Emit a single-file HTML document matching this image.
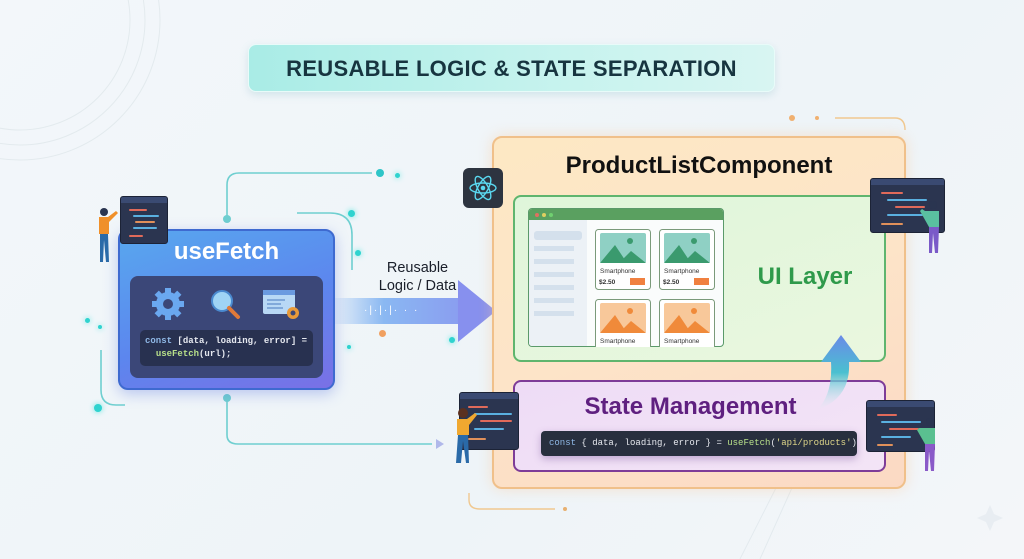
<!DOCTYPE html>
<html><head><meta charset="utf-8"><style>
*{box-sizing:border-box;margin:0;padding:0}
body{width:1024px;height:559px;overflow:hidden;position:relative;background:linear-gradient(135deg,#f3f7fa,#eef4f8 60%,#f4f6f9);font-family:"Liberation Sans",sans-serif}
.a{position:absolute}
.mono{font-family:"Liberation Mono",monospace}
.mon{position:absolute;background:#2b3550;border:1px solid #1c2336;border-radius:3px;overflow:hidden}
.mon .bar{height:6px;background:#3a4a72}
.mon i{position:absolute;height:2px;border-radius:1px}
.dot{position:absolute;border-radius:50%;background:#2fd3cf;box-shadow:0 0 6px #5fe6e0}
</style></head><body>
<svg class="a" style="left:0;top:0" width="1024" height="559">
<g fill="none" stroke="#e3eaee" stroke-width="1">
<circle cx="20" cy="20" r="110"/><circle cx="20" cy="20" r="125"/><circle cx="20" cy="20" r="140"/>
<path d="M740 559 L780 480 M760 559 L800 470"/>
</g>
<g fill="none" stroke="#6fcfd0" stroke-width="1.6">
<path d="M227 219 V185 Q227 173 239 173 H372"/>
<path d="M297 213 H330 Q352 213 352 235 V270"/>
<path d="M227 398 V435 Q227 444 238 444 H432"/>
<path d="M101 350 V390 Q101 405 116 405 H125"/>
</g>
<path d="M436 439 L444 444 L436 449 Z" fill="#b0b8ea"/>
<g fill="none" stroke="#f0c890" stroke-width="1.4">
<path d="M469 493 V500 Q469 509 480 509 H555"/>
<path d="M835 118 H895 Q905 118 905 130"/>
</g>
<circle cx="565" cy="509" r="2" fill="#e8b070"/>
<circle cx="792" cy="118" r="3" fill="#f0b070"/>
<circle cx="817" cy="118" r="2" fill="#f0b070"/>
<circle cx="380" cy="173" r="4" fill="#2fc5c8"/>
<circle cx="227" cy="219" r="4" fill="#6fcfd0"/>
<circle cx="227" cy="398" r="4" fill="#6fcfd0"/>
<path d="M990 505 l4 9 l9 4 l-9 4 l-4 9 l-4 -9 l-9 -4 l9 -4z" fill="#e8edf2"/>
</svg>
<div class="dot" style="top:210px;left:348px;width:7px;height:7px"></div>
<div class="dot" style="left:355px;top:250px;width:6px;height:6px"></div>
<div class="dot" style="left:395px;top:173px;width:5px;height:5px"></div>
<div class="dot" style="left:449px;top:337px;width:6px;height:6px"></div>
<div class="dot" style="left:85px;top:318px;width:5px;height:5px"></div>
<div class="dot" style="left:98px;top:325px;width:4px;height:4px"></div>
<div class="dot" style="left:94px;top:404px;width:8px;height:8px"></div>
<div class="dot" style="left:347px;top:345px;width:4px;height:4px"></div>
<div class="a" style="left:379px;top:330px;width:7px;height:7px;border-radius:50%;background:#f0a060"></div>

<div class="a" style="left:248px;top:44px;width:527px;height:48px;border-radius:8px;background:linear-gradient(90deg,#a9ece6,#c7f3ee 60%,#d8f5f2);box-shadow:0 3px 8px rgba(120,180,190,.25);border:1px solid #e8fbf9;text-align:center;line-height:48px;font-weight:bold;font-size:22px;color:#173540;letter-spacing:.3px">REUSABLE LOGIC &amp; STATE SEPARATION</div>

<div class="a" style="left:330px;top:298px;width:135px;height:26px;background:linear-gradient(90deg,rgba(150,200,240,0),#8ab8f2 40%,#8a9cf0)"></div>
<svg class="a" style="left:458px;top:280px" width="42" height="62"><path d="M0 0 L38 31 L0 62 Z" fill="#8790ee"/></svg>
<div class="a" style="left:364px;top:305px;width:90px;height:12px;font-size:10px;color:#fff;letter-spacing:2px;line-height:12px">·|·|·|·  ·  ·</div>
<div class="a" style="left:370px;top:259px;width:95px;text-align:center;font-size:14.5px;line-height:18px;color:#1a1f2a">Reusable<br>Logic / Data</div>

<div class="a" style="left:118px;top:229px;width:217px;height:161px;border-radius:10px;background:linear-gradient(160deg,#58a8ee,#5c86ee 55%,#7a70e6);border:2px solid #3e6ad0;box-shadow:0 4px 14px rgba(80,110,220,.35)"></div>
<div class="a" style="left:118px;top:238px;width:217px;text-align:center;font-size:24px;font-weight:bold;color:#fff">useFetch</div>
<div class="a" style="left:130px;top:276px;width:193px;height:102px;border-radius:8px;background:#3b4778"></div>
<div class="a mono" style="left:140px;top:330px;width:173px;height:36px;border-radius:5px;background:#283150;font-size:9px;line-height:13px;padding:5px 5px;color:#e6e9f0;white-space:nowrap;font-weight:bold"><span style="color:#8fb8e6">const</span> [data, loading, error] =<br>&nbsp;&nbsp;<span style="color:#b8e08a">useFetch</span>(url);</div>
<svg class="a" style="left:150px;top:287px" width="165" height="38">
<g transform="translate(18,17)"><circle r="12" fill="#6aa8f0"/><g fill="#6aa8f0"><rect x="-3" y="-16" width="6" height="32"/><rect x="-16" y="-3" width="32" height="6"/><rect x="-3" y="-16" width="6" height="32" transform="rotate(45)"/><rect x="-3" y="-16" width="6" height="32" transform="rotate(-45)"/></g><circle r="5" fill="#3b4778"/></g>
<circle cx="72" cy="14" r="10" fill="#9fd4f5" stroke="#4a8ad0" stroke-width="2"/><path d="M79 21 L88 30" stroke="#e07a3a" stroke-width="4" stroke-linecap="round"/>
<rect x="113" y="3" width="32" height="24" rx="2" fill="#b8d8f5"/><rect x="113" y="3" width="32" height="5" fill="#6a9ae0"/><path d="M117 13h18M117 17h14M117 21h16" stroke="#4a7ac0"/>
<circle cx="143" cy="26" r="6" fill="#e89a3a"/><circle cx="143" cy="26" r="2.5" fill="#3b4778"/>
</svg>
<div class="mon" style="left:120px;top:196px;width:48px;height:48px"><div class="bar"></div><i style="left:8px;top:12px;width:18px;background:#e06a5a"></i><i style="left:12px;top:18px;width:26px;background:#5ab0e0"></i><i style="left:14px;top:24px;width:20px;background:#e0905a"></i><i style="left:12px;top:30px;width:24px;background:#5ab0e0"></i><i style="left:8px;top:38px;width:14px;background:#e06a5a"></i></div>
<svg class="a" style="left:92px;top:205px" width="30" height="60"><circle cx="12" cy="7" r="4" fill="#2a3550"/><path d="M7 12h9l8-6 2 2-9 9v12H7z" fill="#f0902a"/><path d="M8 29h8l1 28h-3l-2-22-1 22H8z" fill="#2a6aa8"/></svg>

<div class="a" style="left:492px;top:136px;width:414px;height:353px;border-radius:10px;border:2px solid #f0c08a;background:linear-gradient(160deg,#fde8c4,#fde4c8 50%,#fbd9c4);box-shadow:0 0 14px rgba(250,200,150,.45)"></div>
<div class="a" style="left:492px;top:152px;width:414px;text-align:center;font-size:24px;font-weight:bold;color:#111">ProductListComponent</div>
<div class="a" style="left:463px;top:168px;width:40px;height:40px;border-radius:6px;background:#2d3440"></div>
<svg class="a" style="left:463px;top:168px" width="40" height="40"><g fill="none" stroke="#5ad8f0" stroke-width="1.4" transform="translate(20,20)"><ellipse rx="13" ry="5"/><ellipse rx="13" ry="5" transform="rotate(60)"/><ellipse rx="13" ry="5" transform="rotate(-60)"/></g><circle cx="20" cy="20" r="2.3" fill="#5ad8f0"/></svg>

<div class="a" style="left:513px;top:195px;width:373px;height:167px;border-radius:8px;border:2px solid #5fb56e;background:linear-gradient(160deg,#dff6da,#eaf7df)"></div>
<div class="a" style="left:750px;top:263px;width:110px;text-align:center;font-size:24px;font-weight:bold;color:#2f9a4b">UI Layer</div>
<div class="a" style="left:528px;top:208px;width:196px;height:139px;border-radius:4px;background:#fafcfc;border:1px solid #5a9a6a;overflow:hidden">
 <div style="height:11px;background:#5aa060;white-space:nowrap;line-height:0"><span style="display:inline-block;width:4px;height:4px;border-radius:50%;background:#e07060;margin:4px 0 0 6px"></span><span style="display:inline-block;width:4px;height:4px;border-radius:50%;background:#e0d060;margin-left:3px"></span><span style="display:inline-block;width:4px;height:4px;border-radius:50%;background:#70d070;margin-left:3px"></span></div>
 <div class="a" style="left:0;top:11px;width:58px;height:128px;background:#ecf1f6"></div>
 <div class="a" style="left:5px;top:22px;width:48px;height:9px;border-radius:3px;background:#d4e0ec"></div>
 <div class="a" style="left:5px;top:37px;width:40px;height:70px;background:repeating-linear-gradient(#d4e0ec 0 5px,transparent 5px 13px)"></div>
</div>
<svg class="a" style="left:595px;top:229px" width="125" height="118">
<g font-family="Liberation Sans" font-size="6.5" fill="#333">
<rect x="0.5" y="0.5" width="55" height="60" rx="3" fill="#fff" stroke="#7a9a7a"/><rect x="5" y="4" width="46" height="30" rx="2" fill="#8fd0c4"/><path d="M5 34 L20 16 L32 34 Z M24 34 L36 22 L51 34Z" fill="#3a9a6e"/><circle cx="35" cy="12" r="3" fill="#3a9a6e"/><text x="5" y="44">Smartphone</text><text x="4" y="55" font-weight="bold">$2.50</text><rect x="35" y="49" width="15" height="7" fill="#f08040"/>
<rect x="64.5" y="0.5" width="55" height="60" rx="3" fill="#fff" stroke="#7a9a7a"/><rect x="69" y="4" width="46" height="30" rx="2" fill="#8fd0c4"/><path d="M69 34 L84 16 L96 34 Z M88 34 L100 22 L115 34Z" fill="#3a9a6e"/><circle cx="99" cy="12" r="3" fill="#3a9a6e"/><text x="69" y="44">Smartphone</text><text x="68" y="55" font-weight="bold">$2.50</text><rect x="99" y="49" width="15" height="7" fill="#f08040"/>
<rect x="0.5" y="70.5" width="55" height="50" rx="3" fill="#fff" stroke="#7a9a7a"/><rect x="5" y="74" width="46" height="30" rx="2" fill="#f8c89a"/><path d="M5 104 L20 86 L32 104 Z M24 104 L36 92 L51 104Z" fill="#f08a3a"/><circle cx="35" cy="82" r="3" fill="#f08a3a"/><text x="5" y="114">Smartphone</text>
<rect x="64.5" y="70.5" width="55" height="50" rx="3" fill="#fff" stroke="#7a9a7a"/><rect x="69" y="74" width="46" height="30" rx="2" fill="#f8c89a"/><path d="M69 104 L84 86 L96 104 Z M88 104 L100 92 L115 104Z" fill="#f08a3a"/><circle cx="99" cy="82" r="3" fill="#f08a3a"/><text x="69" y="114">Smartphone</text>
</g></svg>

<div class="a" style="left:513px;top:380px;width:373px;height:92px;border-radius:8px;border:2px solid #7e3c98;background:linear-gradient(160deg,#eedcf6,#f3e4f6)"></div>
<div class="a" style="left:513px;top:393px;width:355px;text-align:center;font-size:24px;font-weight:bold;color:#5f2080">State Management</div>
<div class="a mono" style="left:541px;top:431px;width:316px;height:25px;border-radius:4px;background:#282f3e;box-shadow:0 3px 8px rgba(100,60,140,.35);font-size:9px;line-height:25px;padding-left:8px;color:#e6e8ee;white-space:nowrap;overflow:hidden"><span style="color:#8fb8e6">const</span> { data, loading, error } = <span style="color:#b8e08a">useFetch</span>(<span style="color:#e0d88a">'api/products'</span>);</div>
<svg class="a" style="left:815px;top:332px" width="50" height="80"><defs><linearGradient id="g" x1="0" y1="1" x2="0" y2="0"><stop offset="0" stop-color="#d8f0f0" stop-opacity="0"/><stop offset=".5" stop-color="#4ac0d0"/><stop offset="1" stop-color="#6a8ae8"/></linearGradient></defs><path d="M2 78 Q18 62 16 30 H6 L26 3 L46 30 H34 Q36 66 2 78Z" fill="url(#g)"/></svg>

<div class="mon" style="left:870px;top:178px;width:75px;height:55px"><div class="bar"></div><i style="left:10px;top:13px;width:22px;background:#e06a5a"></i><i style="left:16px;top:20px;width:40px;background:#5ab0e0"></i><i style="left:24px;top:27px;width:30px;background:#e06a5a"></i><i style="left:16px;top:35px;width:36px;background:#5ab0e0"></i><i style="left:10px;top:44px;width:22px;background:#e0905a"></i></div>
<svg class="a" style="left:915px;top:195px" width="30" height="60"><circle cx="18" cy="10" r="4" fill="#2a3550"/><path d="M10 16h14v16H14l-9-16 2-2z" fill="#5ac0a0"/><path d="M14 32h10l-1 26h-3l-2-20-1 20h-3z" fill="#7a5ac8"/></svg>
<div class="mon" style="left:459px;top:392px;width:60px;height:58px"><div class="bar"></div><i style="left:8px;top:13px;width:20px;background:#e06a5a"></i><i style="left:14px;top:20px;width:38px;background:#5ab0e0"></i><i style="left:20px;top:27px;width:32px;background:#e06a5a"></i><i style="left:14px;top:35px;width:30px;background:#5ab0e0"></i><i style="left:8px;top:45px;width:18px;background:#e0905a"></i></div>
<svg class="a" style="left:452px;top:405px" width="30" height="60"><circle cx="11" cy="8" r="5" fill="#5a3020"/><path d="M5 14h10l8-6 2 2-8 10v10H5z" fill="#f0a830"/><path d="M6 30h10l1 28h-3l-3-22-2 22H4z" fill="#2a6aa8"/></svg>
<div class="mon" style="left:866px;top:400px;width:69px;height:52px"><div class="bar"></div><i style="left:10px;top:13px;width:20px;background:#e06a5a"></i><i style="left:14px;top:20px;width:40px;background:#5ab0e0"></i><i style="left:22px;top:27px;width:30px;background:#e06a5a"></i><i style="left:14px;top:35px;width:30px;background:#5ab0e0"></i><i style="left:10px;top:43px;width:16px;background:#e0905a"></i></div>
<svg class="a" style="left:912px;top:413px" width="30" height="60"><circle cx="18" cy="9" r="4" fill="#2a3550"/><path d="M8 15h15v16H13l-8-14 2-2z" fill="#5ac090"/><path d="M13 31h10l-1 27h-3l-2-20-1 20h-3z" fill="#8a5ac8"/></svg>
</body></html>
